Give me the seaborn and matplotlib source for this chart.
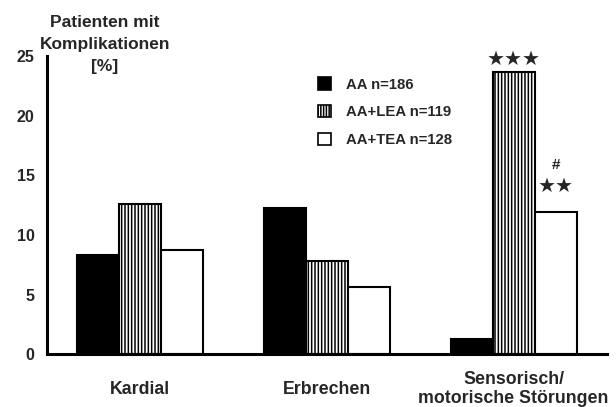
import matplotlib
matplotlib.use("Agg")
import matplotlib.pyplot as plt
import seaborn as sns
import pandas as pd

categories = ["Kardial", "Erbrechen", "Sensorisch/\nmotorische Störungen"]
groups = ["AA n=186", "AA+LEA n=119", "AA+TEA n=128"]
aa = [8.3, 12.3, 1.3]
aa_lea = [12.6, 7.8, 23.7]
aa_tea = [8.7, 5.6, 11.9]
yticks = [0, 5, 10, 15, 20, 25]

rows = []
for g, vals in zip(groups, [aa, aa_lea, aa_tea]):
    for c, v in zip(categories, vals):
        rows.append({"cat": c, "grp": g, "val": v})
df = pd.DataFrame(rows)

sns.set_style("white")
plt.rcParams["font.family"] = ["Liberation Sans", "DejaVu Sans"]
plt.rcParams["hatch.linewidth"] = 1.1

fig = plt.figure(figsize=(6.16, 4.07), dpi=100)
ax = fig.add_axes([0.0763, 0.1302, 0.9091, 0.7310])

sns.barplot(data=df, x="cat", y="val", hue="grp", order=categories,
            hue_order=groups, palette=["black", "white", "white"],
            width=0.675, edgecolor="black", linewidth=1.5, saturation=1,
            errorbar=None, ax=ax)

hatches = [None, "|||||", None]
for cont, h in zip(ax.containers, hatches):
    for p in cont:
        p.set_edgecolor("black")
        p.set_linewidth(1.5)
        if h:
            p.set_hatch(h)

ax.set_xlim(-0.5, 2.5)
ax.set_ylim(0, 25)
ax.set_yticks(yticks)
ax.set_yticklabels([str(t) for t in yticks], fontsize=11.5, fontweight="bold")
ax.set_xticks(range(len(categories)))
ax.set_xticklabels(categories, fontsize=12.8, fontweight="bold", linespacing=1.15)
for lab in ax.get_xticklabels():
    lab.set_va("center")
ax.set_xticks([-0.5, 0.5, 1.5, 2.5], minor=True)
ax.tick_params(axis="x", which="major", length=0, pad=25.5)
ax.tick_params(axis="x", which="minor", length=5, width=2, direction="out", color="black")
ax.tick_params(axis="y", length=5, width=2, direction="out", color="black", pad=4)
ax.set_xlabel("")
ax.set_ylabel("")
for s in ["top", "right"]:
    ax.spines[s].set_visible(False)
for s in ["left", "bottom"]:
    ax.spines[s].set_linewidth(2.2)
    ax.spines[s].set_color("black")

fig.text(0.170, 0.964, "Patienten mit\nKomplikationen\n[%]", ha="center", va="top",
         fontsize=12.5, fontweight="bold", linespacing=1.58)

leg = ax.legend(loc="upper left", bbox_to_anchor=(0.46, 0.975), frameon=False,
                handlelength=0.9, handleheight=0.9, labelspacing=0.9,
                handletextpad=1.0, prop={"size": 10.7, "weight": "bold"})
for hnd, h in zip(leg.legend_handles, hatches):
    hnd.set_edgecolor("black")
    hnd.set_linewidth(1.2)
    if h:
        hnd.set_hatch("||||||")

# significance markers
dx = 0.225
ax.text(2, 24.75, "★★★", ha="center", va="center", fontsize=14.5,
        family="DejaVu Sans", clip_on=False)
ax.text(2 + dx, 14.05, "★★", ha="center", va="center", fontsize=14.5,
        family="DejaVu Sans")
ax.text(2 + dx, 15.85, "#", ha="center", va="center", fontsize=11,
        fontweight="bold")

fig.savefig("out.png", dpi=100, facecolor="white")
